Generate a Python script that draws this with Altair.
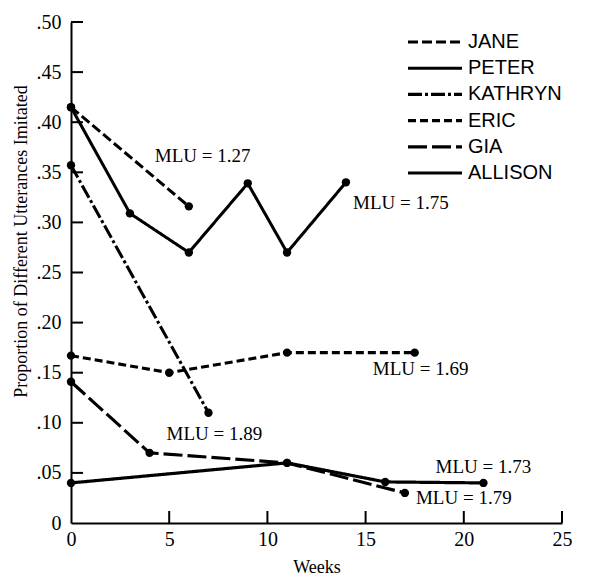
import altair as alt
import pandas as pd

# ---------------- data ----------------
names = ["JANE", "PETER", "KATHRYN", "ERIC", "GIA", "ALLISON"]

jane_weeks = [0, 6]
jane_vals = [0.415, 0.316]
peter_weeks = [0, 3, 6, 9, 11, 14]
peter_vals = [0.415, 0.309, 0.270, 0.339, 0.270, 0.340]
kathryn_weeks = [0, 7]
kathryn_vals = [0.357, 0.110]
eric_weeks = [0, 5, 11, 17.5]
eric_vals = [0.167, 0.150, 0.170, 0.170]
gia_weeks = [0, 4, 11, 17]
gia_vals = [0.141, 0.070, 0.060, 0.030]
allison_weeks = [0, 11, 16, 21]
allison_vals = [0.040, 0.060, 0.041, 0.040]

mlu_labels = ["MLU = 1.27", "MLU = 1.75", "MLU = 1.89", "MLU = 1.69", "MLU = 1.73", "MLU = 1.79"]
mlu_weeks = [6.7, 16.8, 7.3, 17.8, 21.0, 20.0]
mlu_vals = [0.366, 0.319, 0.089, 0.154, 0.056, 0.025]

x_tick_values = [0, 5, 10, 15, 20, 25]
y_tick_values = [0, 0.05, 0.10, 0.15, 0.20, 0.25, 0.30, 0.35, 0.40, 0.45, 0.50]

dash_patterns = [[10, 4], [1, 0], [14, 3, 3, 3], [8, 4], [19, 5], [1, 0]]
stroke_widths = [3.0, 3.2, 3.0, 3.0, 3.2, 2.0]

# ---------------- tables ----------------
series = {
    "JANE": (jane_weeks, jane_vals),
    "PETER": (peter_weeks, peter_vals),
    "KATHRYN": (kathryn_weeks, kathryn_vals),
    "ERIC": (eric_weeks, eric_vals),
    "GIA": (gia_weeks, gia_vals),
    "ALLISON": (allison_weeks, allison_vals),
}
rows = []
for n, (ws, vs) in series.items():
    for w, v in zip(ws, vs):
        rows.append({"name": n, "week": w, "value": v})
df = pd.DataFrame(rows)
mlu_df = pd.DataFrame({"label": mlu_labels, "week": mlu_weeks, "value": mlu_vals})
xt_df = pd.DataFrame({"week": [v for v in x_tick_values if v > 0]})
yt_df = pd.DataFrame({"value": [v for v in y_tick_values if v > 0]})
leg_df = pd.DataFrame({"name": names})

W, H = 491, 501
serif = "Liberation Serif"
sans = "Liberation Sans"

xscale = alt.Scale(domain=[0, 25], nice=False, zero=False)
yscale = alt.Scale(domain=[0, 0.5], nice=False)
dash_scale = alt.Scale(domain=names, range=dash_patterns)
width_scale = alt.Scale(domain=names, range=stroke_widths)

x_enc = alt.X(
    "week:Q",
    scale=xscale,
    axis=alt.Axis(
        values=x_tick_values, ticks=False, tickSize=0, grid=False,
        domainColor="black", domainWidth=2,
        labelFont=serif, labelFontSize=20, labelColor="black", labelPadding=6,
        labelFlush=False,
        title="Weeks", titleFont=serif, titleFontSize=18, titleFontWeight="normal",
        titleColor="black", titlePadding=9,
    ),
)
y_enc = alt.Y(
    "value:Q",
    scale=yscale,
    axis=alt.Axis(
        values=y_tick_values, ticks=False, tickSize=0, grid=False,
        domainColor="black", domainWidth=2,
        labelFont=serif, labelFontSize=20, labelColor="black", labelPadding=10,
        labelFlush=False,
        labelExpr="datum.value == 0 ? '0' : replace(format(datum.value, '.2f'), '0.', '.')",
        title="Proportion of Different Utterances Imitated", titleFont=serif,
        titleFontSize=18, titleFontWeight="normal", titleColor="black", titlePadding=6,
        titleY=219,
    ),
)

lines = alt.Chart(df).mark_line(color="black", strokeCap="butt").encode(
    x=x_enc,
    y=y_enc,
    detail="name:N",
    order="week:Q",
    strokeDash=alt.StrokeDash("name:N", scale=dash_scale, legend=None),
    strokeWidth=alt.StrokeWidth("name:N", scale=width_scale, legend=None),
)

points = alt.Chart(df).mark_circle(color="black", size=70, opacity=1).encode(
    x=alt.X("week:Q", scale=xscale),
    y=alt.Y("value:Q", scale=yscale),
)

labels = alt.Chart(mlu_df).mark_text(
    font=serif, fontSize=19, color="black", align="center", baseline="middle"
).encode(
    x=alt.X("week:Q", scale=xscale),
    y=alt.Y("value:Q", scale=yscale),
    text="label:N",
)

yticks = alt.Chart(yt_df).mark_rule(color="black", strokeWidth=2).encode(
    y=alt.Y("value:Q", scale=yscale),
    x=alt.value(0),
    x2=alt.value(12),
)
xticks = alt.Chart(xt_df).mark_rule(color="black", strokeWidth=2).encode(
    x=alt.X("week:Q", scale=xscale),
    y=alt.value(H),
    y2=alt.value(H - 12),
)

main = alt.layer(lines, points, labels, yticks, xticks)

leg_y = alt.Y("name:N", scale=alt.Scale(type="point", domain=names, range=[20, 151], padding=0), axis=None)
leg_lines = alt.Chart(leg_df).mark_rule(color="black", strokeCap="butt").encode(
    y=leg_y,
    x=alt.value(337),
    x2=alt.value(391),
    strokeDash=alt.StrokeDash("name:N", scale=dash_scale, legend=None),
    strokeWidth=alt.StrokeWidth("name:N", scale=width_scale, legend=None),
)
leg_text = alt.Chart(leg_df).mark_text(
    font=sans, fontSize=20, color="black", align="left", baseline="middle"
).encode(
    y=leg_y,
    x=alt.value(397),
    text="name:N",
)
legend = alt.layer(leg_lines, leg_text)

chart = (
    alt.layer(main, legend)
    .resolve_scale(y="independent")
    .properties(
        width=W, height=H,
        autosize=alt.AutoSizeParams(type="none"),
        padding={"left": 71, "top": 22, "right": 27, "bottom": 57},
        background="white",
    )
    .configure_view(stroke=None)
)

chart.save("out.html", embed_options={"renderer": "svg", "actions": False})
